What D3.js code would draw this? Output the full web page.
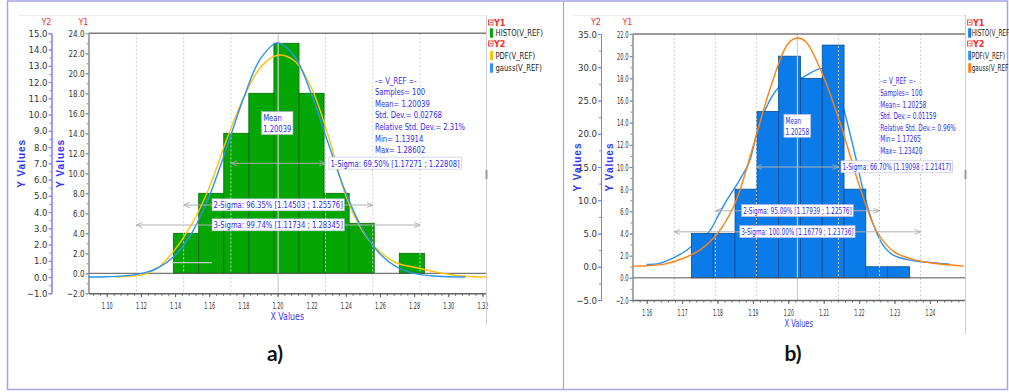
<!DOCTYPE html>
<html>
<head>
<meta charset="utf-8">
<script src="https://cdn.jsdelivr.net/npm/d3@7"></script>
<style>
body { margin: 0; background: #fff; }
svg { display: block; }
text { font-family: "Liberation Sans Narrow", "DejaVu Sans Condensed", sans-serif; }
</style>
</head>
<body>
<svg id="chart" width="1009" height="392"></svg>
<script>
// ---------- panel a) ----------
var binEdgesA = [1.13914, 1.15383, 1.16852, 1.18320, 1.19789, 1.21258, 1.22727, 1.24196, 1.25664, 1.27133, 1.28602];
var countsA = [4, 8, 14, 18, 23, 18, 8, 5, 0, 2];
var pdfXA = [1.105, 1.11, 1.12, 1.13, 1.14, 1.15, 1.16, 1.17, 1.18, 1.19, 1.20, 1.21, 1.22, 1.23, 1.24, 1.25, 1.26, 1.27, 1.28, 1.29, 1.30, 1.31, 1.322];
var pdfYA = [0.0, 0.03, 0.12, 0.58, 1.7, 3.3, 5.5, 8.4, 11.0, 12.9, 13.65, 13.3, 11.6, 8.6, 5.0, 2.8, 1.55, 0.85, 0.6, 0.37, 0.17, 0.05, 0.0];
var gaussXA = [1.089, 1.10, 1.11, 1.12, 1.13, 1.14, 1.15, 1.16, 1.17, 1.18, 1.19, 1.20, 1.21, 1.22, 1.23, 1.24, 1.25, 1.26, 1.27, 1.28, 1.29, 1.30, 1.31];
var gaussYA = [0.0, 0.02, 0.07, 0.21, 0.57, 1.33, 2.75, 4.97, 7.89, 10.98, 13.43, 14.41, 13.57, 11.22, 8.14, 5.18, 2.90, 1.42, 0.61, 0.23, 0.08, 0.02, 0.0];
var meanA = 1.20039;
var sigmaLoA = [1.17271, 1.14503, 1.11734];
var sigmaHiA = [1.22808, 1.25576, 1.28345];
var sigmaPctA = ["69.50%", "96.35%", "99.74%"];
var statsA = ["-= V_REF =-", "Samples= 100", "Mean= 1.20039", "Std. Dev.= 0.02768", "Relative Std. Dev.= 2.31%", "Min= 1.13914", "Max= 1.28602"];
var xTicksA = [1.10, 1.12, 1.14, 1.16, 1.18, 1.20, 1.22, 1.24, 1.26, 1.28, 1.30, 1.32];
var y1TicksA = [-2, 0, 2, 4, 6, 8, 10, 12, 14, 16, 18, 20, 22, 24];
var y2TicksA = [-1, 0, 1, 2, 3, 4, 5, 6, 7, 8, 9, 10, 11, 12, 13, 14, 15];
var legendA = ["HISTO(V_REF)", "PDF(V_REF)", "gauss(V_REF)"];

// ---------- panel b) ----------
var binEdgesB = [1.17265, 1.17881, 1.18496, 1.19112, 1.19727, 1.20343, 1.20958, 1.21574, 1.22189, 1.22805, 1.23420];
var countsB = [4, 4, 8, 15, 20, 18, 21, 8, 1, 1];
var pdfXB = [1.1600, 1.1636, 1.1673, 1.1711, 1.1725, 1.1749, 1.1777, 1.1800, 1.1824, 1.1862, 1.1890, 1.1911, 1.1932, 1.1970, 1.2003, 1.2034, 1.2093, 1.2125, 1.2157, 1.2190, 1.2210, 1.2239, 1.2267, 1.2295, 1.2343, 1.2408, 1.2456];
var pdfYB = [0.35, 0.5, 1.27, 2.4, 3.0, 4.0, 5.3, 7.5, 9.8, 13.0, 15.8, 20.0, 23.3, 26.8, 27.8, 28.3, 29.8, 29.0, 23.6, 16.5, 11.8, 6.5, 3.3, 1.8, 1.0, 0.6, 0.4];
var gaussXB = [1.156, 1.160, 1.165, 1.170, 1.175, 1.180, 1.185, 1.190, 1.195, 1.200, 1.2026, 1.205, 1.210, 1.215, 1.220, 1.225, 1.230, 1.235, 1.240, 1.245, 1.2495];
var gaussYB = [0.1, 0.15, 0.4, 1.2, 2.5, 5.0, 9.6, 18.0, 27.0, 33.6, 34.4, 33.8, 28.5, 21.0, 12.3, 5.3, 2.2, 1.15, 0.6, 0.3, 0.1];
var meanB = 1.20258;
var sigmaLoB = [1.19098, 1.17939, 1.16779];
var sigmaHiB = [1.21417, 1.22576, 1.23736];
var sigmaPctB = ["66.70%", "95.09%", "100.00%"];
var statsB = ["-= V_REF =-", "Samples= 100", "Mean= 1.20258", "Std. Dev.= 0.01159", "Relative Std. Dev.= 0.96%", "Min= 1.17265", "Max= 1.23420"];
var xTicksB = [1.16, 1.17, 1.18, 1.19, 1.20, 1.21, 1.22, 1.23, 1.24];
var y1TicksB = [-2, 0, 2, 4, 6, 8, 10, 12, 14, 16, 18, 20, 22];
var y2TicksB = [-5, 0, 5, 10, 15, 20, 25, 30, 35];
var legendB = ["HISTO(V_REF)", "PDF(V_REF)", "gauss(V_REF)"];

var svg = d3.select("#chart");
var annBlue = "#2b2bff";

// the annotation font in the original is narrower than what we have: squeeze it
var probe = svg.append("text").style("font-size", "9.5px").text("Relative Std. Dev.= 2.31%");
var squeeze = Math.min(1, 90 / probe.node().getComputedTextLength());
probe.remove();

function narrow(sel, f) {
  sel.each(function() {
    var w = this.getComputedTextLength();
    d3.select(this).attr("textLength", w * f).attr("lengthAdjust", "spacingAndGlyphs");
  });
}

svg.append("defs").append("marker")
  .attr("id", "arrow")
  .attr("viewBox", "0 -4 8 8")
  .attr("refX", 7).attr("refY", 0)
  .attr("markerWidth", 7).attr("markerHeight", 7)
  .attr("markerUnits", "userSpaceOnUse")
  .attr("orient", "auto-start-reverse")
  .append("path")
  .attr("d", "M0,-3L7,0L0,3")
  .attr("fill", "none")
  .attr("stroke", "#a8a8a8");

// outer frame + divider
svg.append("rect").attr("x", 7.5).attr("y", 1).attr("width", 1000).attr("height", 388.5)
  .attr("fill", "none").attr("stroke", "#a4a4e6").attr("stroke-width", 1.5);
svg.append("line").attr("x1", 563.5).attr("x2", 563.5).attr("y1", 1).attr("y2", 389.5)
  .attr("stroke", "#a4a4e6").attr("stroke-width", 1.2);

function boxLabel(g, lines, xx, yy, anchor, f) {
  var grp = g.append("g");
  var t = grp.append("text")
    .attr("x", xx).attr("y", yy)
    .attr("text-anchor", anchor)
    .attr("fill", annBlue)
    .style("font-size", "9.5px");
  lines.forEach(function(s, k) {
    t.append("tspan").attr("x", xx)
      .attr("dy", k === 0 ? (0.35 - (lines.length - 1) * 0.575) + "em" : "1.15em")
      .text(s);
  });
  narrow(t.selectAll("tspan"), f);
  var b = t.node().getBBox();
  grp.insert("rect", "text")
    .attr("x", b.x - 1.5).attr("y", b.y - 0.5)
    .attr("width", b.width + 3).attr("height", b.height + 1)
    .attr("fill", "#fff").attr("stroke", "#b8b8dc").attr("stroke-width", 0.6);
}

function styleAxis(ax, color, textColor, size) {
  ax.attr("font-family", null).attr("font-size", null);
  ax.select(".domain").attr("stroke", color);
  ax.selectAll(".tick line").attr("stroke", color);
  ax.selectAll(".tick text").attr("fill", textColor).style("font-size", size);
}

function drawPanel(p) {
  var g = svg.append("g");
  var x = d3.scaleLinear().domain(p.xDomain).range([p.left, p.right]);
  var y1 = d3.scaleLinear().domain(p.y1Domain).range([p.bottom, p.top]);
  var y2 = d3.scaleLinear().domain(p.y2Domain).range([p.bottom, p.top]);
  var tf = squeeze * p.textScale;

  // faint header rule
  g.append("line").attr("x1", p.headerX).attr("x2", p.right).attr("y1", 15.5).attr("y2", 15.5)
    .attr("stroke", "#eeeeee");

  var line = d3.line()
    .x(function(d) { return x(d[0]); })
    .y(function(d) { return y2(d[1]); })
    .curve(d3.curveCatmullRom);

  function curve(xs, ys, color) {
    g.append("path")
      .datum(d3.zip(xs, ys))
      .attr("d", line)
      .attr("fill", "none")
      .attr("stroke", color)
      .attr("stroke-width", 1.4);
  }

  if (p.pdfUnder) curve(p.pdfX, p.pdfY, p.colors[1]);

  // histogram bars
  g.selectAll(".bar")
    .data(p.counts)
    .enter().append("rect")
    .attr("class", "bar")
    .attr("x", function(d, i) { return x(p.edges[i]); })
    .attr("width", function(d, i) { return x(p.edges[i + 1]) - x(p.edges[i]); })
    .attr("y", function(d) { return y1(d); })
    .attr("height", function(d) { return y1(0) - y1(d); })
    .attr("fill", p.colors[0])
    .attr("stroke", d3.color(p.colors[0]).darker(1.3))
    .attr("stroke-width", function(d) { return d > 0 ? 0.8 : 0; });

  // sigma grid lines + mean line
  g.selectAll(".grid")
    .data(p.sigLo.concat(p.sigHi))
    .enter().append("line")
    .attr("class", "grid")
    .attr("x1", function(d) { return x(d); }).attr("x2", function(d) { return x(d); })
    .attr("y1", p.top).attr("y2", p.bottom)
    .attr("stroke", "#cfcfcf")
    .attr("stroke-dasharray", "2,2");
  g.append("line")
    .attr("x1", x(p.mean)).attr("x2", x(p.mean))
    .attr("y1", p.top).attr("y2", p.bottom)
    .attr("stroke", "#cdcdcd").attr("stroke-width", 1.2);

  // zero line
  g.append("line").attr("x1", p.left).attr("x2", p.right)
    .attr("y1", y1(0)).attr("y2", y1(0))
    .attr("stroke", "#555").attr("stroke-width", 1);

  if (!p.pdfUnder) curve(p.pdfX, p.pdfY, p.colors[1]);
  curve(p.gaussX, p.gaussY, p.colors[2]);

  if (p.ghost) {
    g.append("line")
      .attr("x1", x(p.ghost[0])).attr("x2", x(p.ghost[1]))
      .attr("y1", y1(p.ghost[2])).attr("y2", y1(p.ghost[2]))
      .attr("stroke", "#c8c8c8").attr("stroke-width", 1.2);
  }

  // sigma arrows and labels
  p.sigLo.forEach(function(lo, i) {
    var hi = p.sigHi[i], yy = y1(p.sigY[i]);
    g.append("line")
      .attr("x1", x(lo)).attr("x2", x(hi))
      .attr("y1", yy).attr("y2", yy)
      .attr("stroke", "#b0b0b0")
      .attr("marker-start", "url(#arrow)")
      .attr("marker-end", "url(#arrow)");
    var txt = (i + 1) + "-Sigma: " + p.sigPct[i] + " [" + d3.format(".5f")(lo) + " ; " + d3.format(".5f")(hi) + "]";
    if (i === 0) boxLabel(g, [txt], x(hi) + p.sig1Gap, yy, "start", tf);
    else boxLabel(g, [txt], x(p.mean), yy, "middle", tf);
  });

  // mean label
  boxLabel(g, ["Mean", d3.format(".5f")(p.mean)], x(p.mean) - p.meanOff, y1(p.meanY), "start", tf);

  // statistics block
  var st = g.append("text")
    .attr("x", x(p.statsAt[0])).attr("y", y1(p.statsAt[1]))
    .attr("fill", annBlue)
    .style("font-size", "9.5px");
  p.stats.forEach(function(s, k) {
    st.append("tspan").attr("x", x(p.statsAt[0]))
      .attr("dy", k === 0 ? "0.35em" : "11.6px")
      .text(s);
  });
  narrow(st.selectAll("tspan"), tf);

  // axes
  var fmt = d3.format(".1f");
  var ax1 = g.append("g").attr("transform", "translate(" + p.left + ",0)")
    .call(d3.axisLeft(y1).tickValues(p.y1Ticks).tickFormat(fmt).tickSize(3).tickSizeOuter(0).tickPadding(1));
  styleAxis(ax1, "#8a8a8a", "#333", "9.5px");
  var ax1m = g.append("g").attr("transform", "translate(" + p.left + ",0)")
    .call(d3.axisLeft(y1).tickValues(d3.range(p.y1Domain[0], p.y1Domain[1], 1)).tickFormat("").tickSize(2).tickSizeOuter(0));
  styleAxis(ax1m, "#8a8a8a", "#333", "9.5px");

  var ax2 = g.append("g").attr("transform", "translate(" + p.y2x + ",0)")
    .call(d3.axisLeft(y2).tickValues(p.y2Ticks).tickFormat(fmt).tickSize(3).tickSizeOuter(3).tickPadding(1));
  styleAxis(ax2, "#7c7cff", "#333", "9.5px");
  var ax2m = g.append("g").attr("transform", "translate(" + p.y2x + ",0)")
    .call(d3.axisLeft(y2).tickValues(d3.range(p.y2Domain[0], p.y2Domain[1], p.y2Minor)).tickFormat("").tickSize(2).tickSizeOuter(0));
  styleAxis(ax2m, "#7c7cff", "#333", "9.5px");

  // y tick labels are narrower in the original, more so in panel b
  var probeW = 0;
  ax1.selectAll(".tick text").each(function() {
    if (d3.select(this).text() === p.y1Ticks[p.y1Ticks.length - 1].toFixed(1)) probeW = this.getComputedTextLength();
  });
  narrow(ax1.selectAll(".tick text").merge(ax2.selectAll(".tick text")), p.yLabelW / probeW);

  var axx = g.append("g").attr("transform", "translate(0," + p.bottom + ")")
    .call(d3.axisBottom(x).tickValues(p.xTicks).tickFormat(d3.format(".2f")).tickSize(4).tickSizeOuter(0).tickPadding(6));
  styleAxis(axx, "#666", "#333", "8.5px");
  axx.select(".domain").attr("stroke-width", 1.4);
  axx.selectAll(".tick text").attr("textLength", p.xLabelW).attr("lengthAdjust", "spacingAndGlyphs");
  var axxm = g.append("g").attr("transform", "translate(0," + p.bottom + ")")
    .call(d3.axisBottom(x).tickValues(d3.range(p.xDomain[0] - (p.xDomain[0] % p.xMinor) + p.xMinor, p.xDomain[1], p.xMinor)).tickFormat("").tickSize(2.5).tickSizeOuter(0));
  styleAxis(axxm, "#666", "#333", "9px");
  axxm.select(".domain").remove();

  // top border of plot
  g.append("line").attr("x1", p.left).attr("x2", p.right).attr("y1", p.top).attr("y2", p.top)
    .attr("stroke", "#7a7a7a").attr("stroke-width", 1.6);

  // axis titles
  var midY = (p.top + p.bottom) / 2;
  [p.y2TitleX, p.y1TitleX].forEach(function(tx) {
    g.append("text")
      .attr("transform", "translate(" + tx + "," + midY + ") rotate(-90)")
      .attr("text-anchor", "middle")
      .attr("dominant-baseline", "central")
      .attr("fill", "#3434ff")
      .style("font-family", "'Liberation Sans', Arial, sans-serif")
      .style("font-weight", "bold")
      .style("font-size", "10px")
      .style("letter-spacing", "1px")
      .text("Y Values");
  });
  var xt = g.append("text")
    .attr("x", (p.left + p.right) / 2).attr("y", p.bottom + p.xTitleDy)
    .attr("text-anchor", "middle")
    .attr("fill", "#3434ff")
    .style("font-size", "11px")
    .text("X Values");
  narrow(xt, tf);
  [["Y2", p.y2x], ["Y1", p.left]].forEach(function(d) {
    g.append("text").attr("x", d[1]).attr("y", 25)
      .attr("text-anchor", "end")
      .attr("fill", "#ff2a2a")
      .style("font-size", "9px")
      .text(d[0]);
  });

  // legend
  var L = p.right + 0.5;
  g.append("line").attr("x1", L).attr("x2", L).attr("y1", 15).attr("y2", p.legendBottom)
    .attr("stroke", "#cccccc");
  g.append("rect").attr("x", L - 1).attr("y", 170).attr("width", 2).attr("height", 9).attr("fill", "#9a9a9a");
  var rows = [
    {head: "Y1", y: 22.5},
    {item: 0, y: 33},
    {head: "Y2", y: 43.5},
    {item: 1, y: 55.5},
    {item: 2, y: 68}
  ];
  var lo = p.legendOff;
  rows.forEach(function(r) {
    if (r.head) {
      g.append("rect").attr("x", L + 2).attr("y", r.y - 2.5).attr("width", 4.5).attr("height", 5)
        .attr("fill", "none").attr("stroke", "#ff2a2a").attr("stroke-width", 0.8);
      g.append("line").attr("x1", L + 3).attr("x2", L + 5.5).attr("y1", r.y).attr("y2", r.y)
        .attr("stroke", "#ff2a2a").attr("stroke-width", 0.8);
      g.append("text").attr("x", L + 7.5).attr("y", r.y).attr("dy", "0.35em")
        .attr("fill", "#ff2a2a").style("font-size", "9px").style("font-weight", "bold").text(r.head);
    } else {
      g.append("rect").attr("x", L + lo[0]).attr("y", r.y - 4.7).attr("width", 3).attr("height", 9.4)
        .attr("fill", p.colors[r.item]);
      var lt = g.append("text").attr("x", L + lo[1]).attr("y", r.y).attr("dy", "0.35em")
        .attr("fill", "#222").style("font-size", "9.5px").text(p.legend[r.item]);
      narrow(lt, tf);
    }
  });

  // panel caption
  g.append("text")
    .attr("x", p.captionX).attr("y", 361)
    .attr("text-anchor", "middle")
    .attr("fill", "#111")
    .style("font-family", "Lato, 'Noto Sans', sans-serif")
    .style("font-weight", "bold")
    .style("font-size", "21px")
    .text(p.caption);
}

drawPanel({
  xDomain: [1.0893, 1.3221], y1Domain: [-2, 24], y2Domain: [-1, 15], y2Minor: 0.5, xMinor: 0.004,
  left: 88.5, right: 486, top: 33.3, bottom: 293.3, y2x: 51.5,
  headerX: 18, y2TitleX: 21.7, y1TitleX: 60, xTitleDy: 26.5,
  edges: binEdgesA, counts: countsA,
  pdfX: pdfXA, pdfY: pdfYA, gaussX: gaussXA, gaussY: gaussYA, pdfUnder: false,
  colors: ["#04a604", "#ffc20e", "#2b93f5"],
  mean: meanA, sigLo: sigmaLoA, sigHi: sigmaHiA, sigPct: sigmaPctA, sigY: [11.0, 6.83, 4.83],
  meanY: 15.0, meanOff: 15, statsAt: [1.2571, 19.3], stats: statsA, sig1Gap: 5,
  ghost: [1.1384, 1.1616, 1.06],
  xTicks: xTicksA, y1Ticks: y1TicksA, y2Ticks: y2TicksA,
  textScale: 1, yLabelW: 16, xLabelW: 11,
  legend: legendA, legendBottom: 325, legendOff: [3.5, 9], caption: "a)", captionX: 275
});

drawPanel({
  xDomain: [1.1560, 1.2499], y1Domain: [-2, 22], y2Domain: [-5, 35], y2Minor: 2.5, xMinor: 0.002,
  left: 632.5, right: 965, top: 34, bottom: 300, y2x: 601,
  headerX: 573, y2TitleX: 577.3, y1TitleX: 609, xTitleDy: 26.5,
  edges: binEdgesB, counts: countsB,
  pdfX: pdfXB, pdfY: pdfYB, gaussX: gaussXB, gaussY: gaussYB, pdfUnder: true,
  colors: ["#0a7be8", "#2b8ff2", "#ff8210"],
  mean: meanB, sigLo: sigmaLoB, sigHi: sigmaHiB, sigPct: sigmaPctB, sigY: [10.0, 6.05, 4.15],
  meanY: 13.7, meanOff: 12, statsAt: [1.22596, 17.75], stats: statsB, sig1Gap: 4,
  ghost: null,
  xTicks: xTicksB, y1Ticks: y1TicksB, y2Ticks: y2TicksB,
  textScale: 0.84, yLabelW: 11.5, xLabelW: 10,
  legend: legendB, legendBottom: 334, legendOff: [2.7, 6.2], caption: "b)", captionX: 793
});
</script>
</body>
</html>
